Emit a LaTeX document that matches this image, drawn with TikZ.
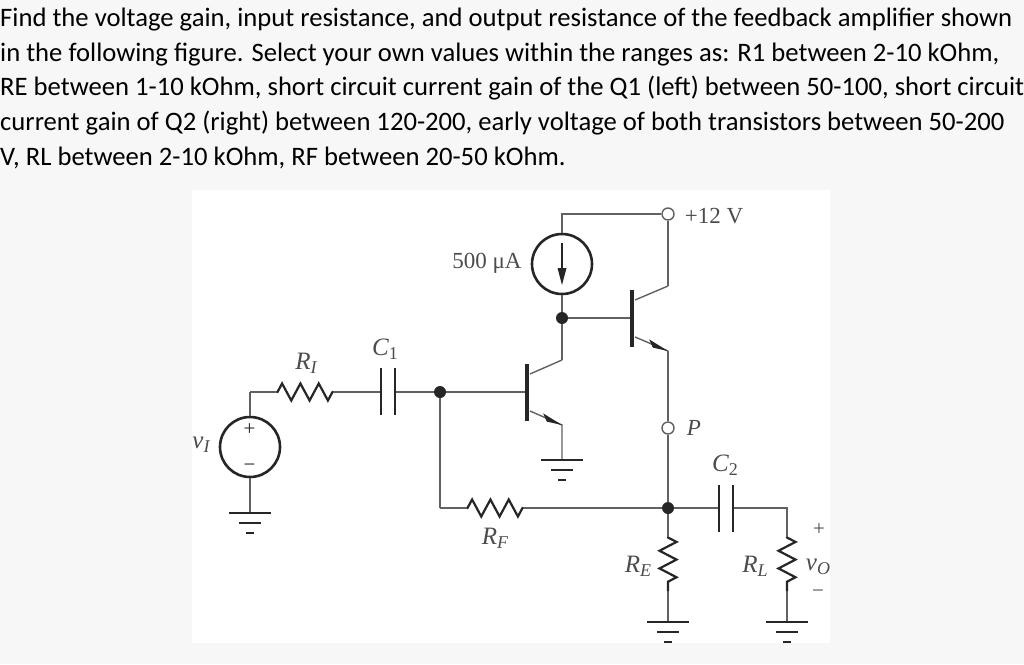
\documentclass[tikz,border=0pt]{standalone}
\usepackage{fontspec}
\setmainfont{Liberation Serif}
\newfontfamily\qfont{Carlito}
\usetikzlibrary{decorations.pathmorphing,arrows.meta}
\definecolor{wirec}{gray}{0.38}
\definecolor{inkc}{gray}{0.15}
\definecolor{labc}{gray}{0.3}
\definecolor{pagec}{gray}{0.97}
\newcommand{\lowsub}[1]{\raisebox{-0.38ex}{\fontsize{18}{20}\selectfont #1}}
\tikzset{
 wire/.style={draw=wirec,line width=1.4pt},
 heavy/.style={draw=inkc,line width=2.6pt},
 plate/.style={draw=inkc,line width=2.6pt},
 res/.style={draw=inkc,line width=2.2pt,decorate,decoration={zigzag,segment length=18.33pt,amplitude=8.5pt,pre length=0.5pt,post length=0.5pt}},
 resv/.style={res,decoration={zigzag,segment length=17.67pt,amplitude=8.5pt,pre length=0.5pt,post length=0.5pt}},
 srcring/.style={circle,draw=inkc,line width=2.6pt,fill=white,inner sep=0pt,minimum size=60pt},
 dotn/.style={circle,fill=black!85,inner sep=0pt,minimum size=12pt},
 term/.style={circle,draw=wirec,line width=1.4pt,fill=white,inner sep=0pt,minimum size=12pt},
 lab/.style={text=labc,inner sep=0pt,font=\fontsize{23}{26}\selectfont},
 mlab/.style={text=labc,inner sep=0pt,font=\fontsize{25}{28}\selectfont\itshape},
 sgn/.style={text=labc,inner sep=0pt,font=\fontsize{21}{24}\selectfont},
 qline/.style={anchor=base west,inner sep=0pt,text=black,font=\qfont\fontsize{26.65}{30}\selectfont},
}
\newcommand{\grnd}[1]{%
 \draw[heavy] ([xshift=-21pt]#1) -- ([xshift=21pt]#1);
 \draw[heavy] ([xshift=-11pt,yshift=-10pt]#1) -- ([xshift=11pt,yshift=-10pt]#1);
 \draw[heavy] ([xshift=-4pt,yshift=-20pt]#1) -- ([xshift=4pt,yshift=-20pt]#1);
}
\begin{document}
\begin{tikzpicture}[x=1pt,y=-1pt]
\useasboundingbox (0,0) rectangle (1024,664);
\fill[pagec] (0,0) rectangle (1024,664);
\fill[white] (192,190) rectangle (830,643);
% question
\node[qline] (q1) at (0,26) {Find the voltage gain, input resistance, and output resistance of the feedback amplifier shown};
\node[qline] (q2) at (0,61) {in the following figure. Select your own values within the ranges as: R1 between 2-10 kOhm,};
\node[qline] (q3) at (0,95) {RE between 1-10 kOhm, short circuit current gain of the Q1 (left) between 50-100, short circuit};
\node[qline] (q4) at (0,130) {current gain of Q2 (right) between 120-200, early voltage of both transistors between 50-200};
\node[qline] (q5) at (0,165) {V, RL between 2-10 kOhm, RF between 20-50 kOhm.};
% junction points
\coordinate (vtop) at (250,392);
\coordinate (rIa) at (277,392);
\coordinate (rIb) at (333,392);
\coordinate (c1a) at (381,392);
\coordinate (c1b) at (395,392);
\coordinate (fbc) at (440,508);
\coordinate (rFa) at (467,508);
\coordinate (rFb) at (523,508);
\coordinate (q1b) at (527,392);
\coordinate (q1c) at (530,374);
\coordinate (q1k) at (562,360);
\coordinate (q1e) at (530,411);
\coordinate (q1f) at (562,425);
\coordinate (q2b) at (632,318);
\coordinate (q2c) at (635,300);
\coordinate (q2k) at (668,286);
\coordinate (q2e) at (635,337);
\coordinate (q2f) at (668,351);
\coordinate (topc) at (562,214);
\coordinate (c2a) at (719,508);
\coordinate (c2b) at (733,508);
\coordinate (rLc) at (787,508);
\coordinate (rEa) at (668,537);
\coordinate (rEb) at (668,591);
\coordinate (rLa) at (787,537);
\coordinate (rLb) at (787,591);
\coordinate (gI) at (250,513);
\coordinate (gQ) at (562,460);
\coordinate (gE) at (668,622);
\coordinate (gL) at (787,622);
% wires
\draw[wire] (vtop) -- (rIa);
\draw[wire] (rIb) -- (c1a);
\draw[wire] (c1b) -- (q1b);
\draw[wire] (q1c) -- (q1k);
\draw[wire] (q1e) -- (q1f) -- (gQ);
\draw[wire] (q2c) -- (q2k);
\draw[wire] (q2e) -- (q2f);
\draw[wire] (fbc) -- (rFa);
\draw[wire] (rFb) -- (c2a);
\draw[wire] (c2b) -- (rLc) -- (rLa);
\draw[wire] (rEb) -- (gE);
\draw[wire] (rLb) -- (gL);
% nodes
\node[srcring] (vs) at (250,447) {};
\node[srcring] (is) at (562,264) {};
\node[dotn] (d1) at (440,392) {};
\node[dotn] (d2) at (562,318) {};
\node[dotn] (d3) at (668,508) {};
\node[term] (t12) at (668,214) {};
\node[term] (tP) at (668,428) {};
\draw[wire] (vs.north) -- (vtop);
\draw[wire] (vs.south) -- (gI);
\draw[wire] (is.north) -- (topc) -- (t12.west);
\draw[wire] (is.south) -- (d2.north);
\draw[wire] (d2.south) -- (q1k);
\draw[wire] (d2.east) -- (q2b);
\draw[wire] (t12.south) -- (q2k);
\draw[wire] (q2f) -- (tP.north);
\draw[wire] (tP.south) -- (d3.north);
\draw[wire] (d3.south) -- (rEa);
\draw[wire] (d1.south) -- (fbc);
% resistors
\draw[res] (rIa) -- (rIb);
\draw[res] (rFa) -- (rFb);
\draw[resv] (rEa) -- (rEb);
\draw[resv] (rLa) -- (rLb);
% capacitors
\draw[plate] (381,368) -- (381,415);
\draw[plate] (395,368) -- (395,415);
\draw[plate] (719,485) -- (719,532);
\draw[plate] (733,485) -- (733,532);
% transistors
\draw[heavy,line width=3.4pt] (527,364) -- (527,421);
\draw[heavy,line width=3.4pt] (632,290) -- (632,347);
\fill[inkc] (q1f) -- (543.2,413.4) -- (546.8,421.6) -- cycle;
\fill[inkc] (q2f) -- (649.2,339.4) -- (652.8,347.6) -- cycle;
% source arrow and signs
\draw[draw=inkc,line width=1.8pt] (562,243) -- (562,272);
\fill[inkc] (562,285) -- (557.5,268) -- (566.5,268) -- cycle;
\node[sgn,text=inkc] (plusI) at (249.5,430) {+};
\node[sgn,text=inkc] (minusI) at (249.5,468) {−};
% grounds
\grnd{gI}
\grnd{gQ}
\grnd{gE}
\grnd{gL}
% labels
\node[lab] (l12) at (714,216) {+12 V};
\node[lab] (l500) at (487,263) {500 μA};
\node[mlab] (lRI) at (306,363) {R\lowsub{I}};
\node[mlab] (lC1) at (385,349) {C\lowsub{\upshape 1}};
\node[mlab] (lvI) at (201,445) {v\lowsub{I}};
\node[mlab] (lRF) at (495,538) {R\lowsub{F}};
\node[mlab,font=\fontsize{23}{26}\selectfont\itshape] (lP) at (694,428) {P};
\node[mlab] (lC2) at (725,465) {C\lowsub{\upshape 2}};
\node[mlab] (lRE) at (638,566) {R\lowsub{E}};
\node[mlab] (lRL) at (755,566) {R\lowsub{L}};
\node[mlab] (lvO) at (818,567) {v\lowsub{O}};
\node[sgn] (lp) at (819,530) {+};
\node[sgn] (lm) at (818,594) {−};
\end{tikzpicture}
\end{document}
